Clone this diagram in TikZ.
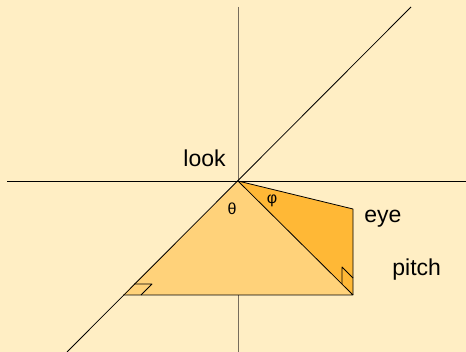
\documentclass[tikz,border=0pt]{standalone}
\usepackage{fontspec}
\setmainfont{Liberation Sans}
\usetikzlibrary{calc}
\definecolor{paper}{RGB}{255,238,196}
\definecolor{lightface}{RGB}{255,210,122}
\definecolor{darkface}{RGB}{255,184,54}
\definecolor{axisgray}{RGB}{118,108,92}

\begin{document}
\begin{tikzpicture}[x=1pt, y=-1pt, line join=round, line width=0.8pt]
  % Canvas (pixel units, y growing downwards)
  \fill[paper] (0,0) rectangle (466,352);
  \useasboundingbox (0,0) rectangle (466,352);

  % Axis end points
  \coordinate (O) at (238,181);      % origin, where the look ray starts
  \coordinate (Vtop) at (238,7);
  \coordinate (Vbot) at (238,352);
  \coordinate (Hleft) at (7,181);
  \coordinate (Hright) at (466,181);
  \coordinate (Dtop) at (411,7);     % 45 degree line
  \coordinate (Dbot) at (67,352);

  % Corners of the two faces
  \coordinate (A) at (123,295);      % on the diagonal
  \coordinate (B) at (353,295);      % below the eye
  \coordinate (E) at (353,209);      % eye

  % Vertical axis sits behind the faces
  \draw[axisgray] (Vtop) -- (Vbot);

  % Faces
  \fill[lightface] (O) -- (A) -- (B) -- cycle;
  \fill[darkface] (O) -- (B) -- (E) -- cycle;

  % Horizontal axis and diagonal
  \draw (Hleft) -- (Hright);
  \draw (Dbot) -- (Dtop);

  % Edges
  \draw (A) -- (B) -- (O);
  \draw (O) -- (E) -- (B);

  % Right-angle markers
  \draw ($(A)+(18,0)$) -- ++(11,-11) -- ++(-18,0);
  \draw ($(B)+(-11,-11)$) -- ++(0,-17) -- ++(11,11);

  % Labels
  \node[anchor=base west, inner sep=0pt, font=\fontsize{23}{27}\selectfont] (look) at (183,167) {look};
  \node[anchor=base west, inner sep=0pt, font=\fontsize{23}{27}\selectfont] (eye) at (364,223) {eye};
  \node[anchor=base west, inner sep=0pt, font=\fontsize{23}{27}\selectfont] (pitch) at (392,276) {pitch};
  \node[inner sep=0pt, font=\fontsize{16}{19}\selectfont] (theta) at (232,209) {θ};
  \node[inner sep=0pt, font=\fontsize{16}{19}\selectfont] (phi) at (272,201) {φ};
\end{tikzpicture}
\end{document}
